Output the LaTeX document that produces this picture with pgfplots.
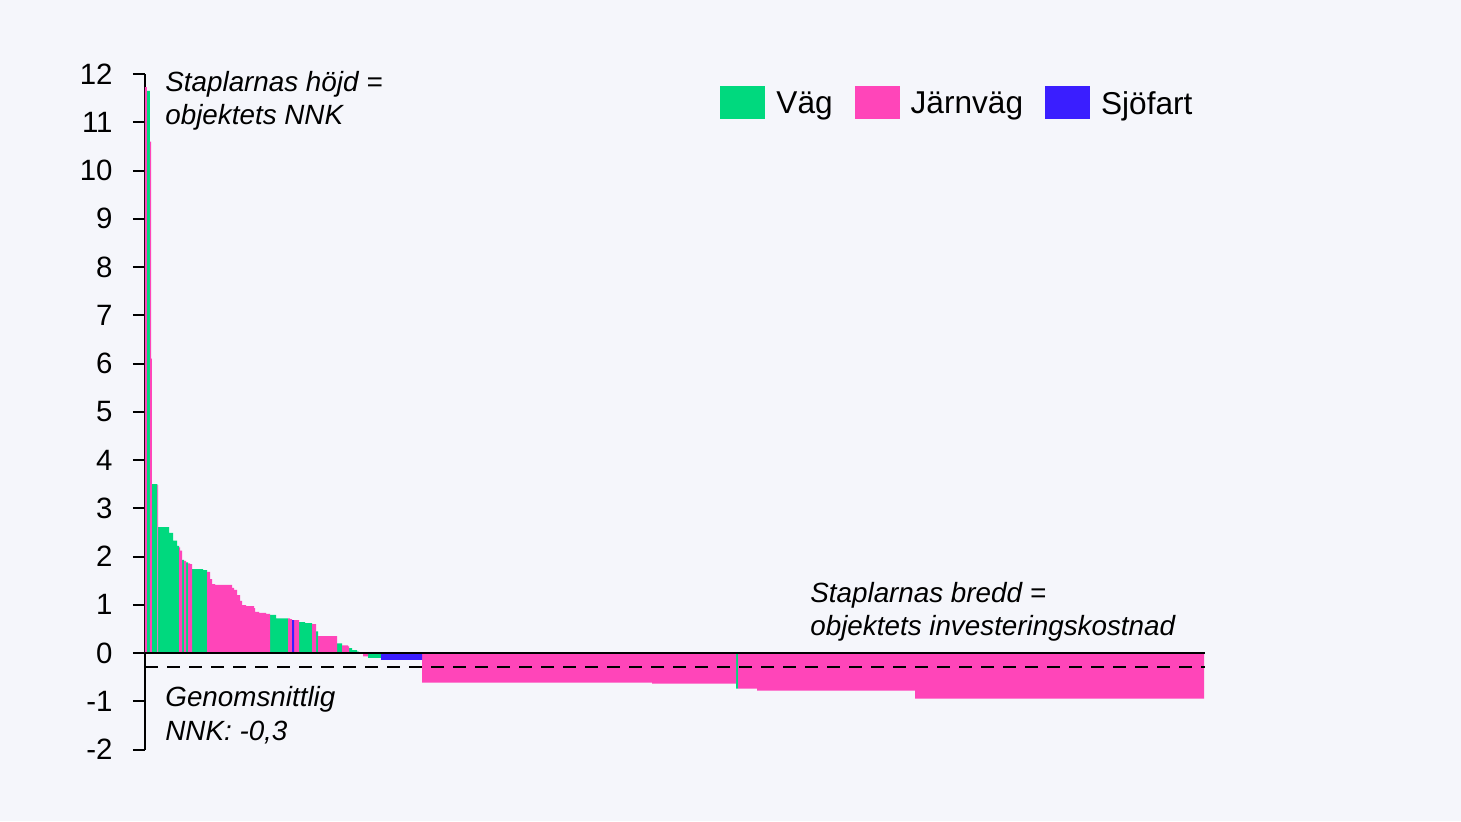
\documentclass[border=0pt]{standalone}
\usepackage{fontspec}
\setmainfont{Liberation Sans}
\usepackage{pgfplots}
\usepackage{pgfplotstable}
\pgfplotsset{compat=1.18}
\definecolor{bgcol}{HTML}{F5F6FB}
\definecolor{vag}{HTML}{00D97E}
\definecolor{jarn}{HTML}{FF45B9}
\definecolor{sjo}{HTML}{3A1EFF}

\pgfplotstableread{
x V J S
0 0 11.73 0
2 11.65 0 0
5 0 10.60 0
6 0 6.10 0
7 3.50 0 0
12.3 0 3.48 0
13 2.61 0 0
24 2.49 0 0
28 2.33 0 0
32 2.22 0 0
34 0 2.19 0
35 0 2.12 0
37 1.93 0 0
39 0 1.91 0
41 1.88 0 0
43 0 1.86 0
45 0 1.84 0
47 1.74 0 0
58 1.72 0 0
62 0 1.68 0
65 0 1.53 0
67 0 1.43 0
70 0 1.41 0
87 0 1.35 0
89 0 1.31 0
92 0 1.20 0
95 0 1.08 0
97 0 0.99 0
101 0 0.97 0
109 0 0.93 0
110 0 0.85 0
114 0 0.83 0
121 0 0.81 0
125 0.79 0 0
131 0.72 0 0
143 0 0.72 0
145 0 0.70 0
147 0 0 0.68
149 0 0.68 0
154 0.64 0 0
160 0.62 0 0
167 0 0.60 0
171 0.45 0 0
173 0 0.35 0
192 0.20 0 0
197 0 0.16 0
203 0 0.14 0
204 0.10 0 0
207 0.06 0 0
212 0.03 0 0
214 0.01 0 0
218 0 -0.07 0
223 -0.10 0 0
236 0 0 -0.14
277 0 -0.615 0
507 0 -0.635 0
591 -0.74 0 0
593 0 -0.74 0
612 0 -0.78 0
770 0 -0.945 0
1059 0 0 0
}\nnkdata

\begin{document}
\begin{tikzpicture}
\useasboundingbox (0,0) rectangle (730.5pt,410.5pt);
\fill[bgcol] (0,0) rectangle (730.5pt,410.5pt);
\begin{axis}[
  at={(72.5pt,35.75pt)}, anchor=south west,
  scale only axis, width=530pt, height=337.75pt,
  xmin=0, xmax=1060, ymin=-2, ymax=12,
  axis x line=none, axis y line=left,
  axis line style={line width=1pt,-},
  ytick={-2,-1,...,12}, xtick=\empty,
  tick align=outside, major tick length=6pt,
  tick style={line width=1pt, black},
  /pgf/number format/assume math mode=true,
  yticklabel style={font=\fontsize{14.7}{17}\selectfont, inner sep=0pt, xshift=-10pt},
  legend columns=3,
  legend image code/.code={\fill[#1,draw=none] (0pt,-8.25pt) rectangle (22.5pt,8.25pt);},
  legend style={draw=none, fill=none, inner sep=0pt,
    at={(0.5425,0.9571)}, anchor=west,
    font=\fontsize{15.8}{18}\selectfont,
    nodes={inner sep=0pt, text depth=0pt},
    /tikz/every odd column/.append style={column sep=5.5pt},
    /tikz/every even column/.append style={column sep=11pt}},
  clip=false,
]
\addplot[fill=vag, draw=none, const plot mark left] table[x=x, y=V] {\nnkdata} \closedcycle;
\addlegendentry{Väg}
\addplot[fill=jarn, draw=none, const plot mark left] table[x=x, y=J] {\nnkdata} \closedcycle;
\addlegendentry{Järnväg}
\addplot[fill=sjo, draw=none, const plot mark left] table[x=x, y=S] {\nnkdata} \closedcycle;
\addlegendentry{Sjöfart}
\draw[line width=1pt] (axis cs:0,0) -- (axis cs:1060,0);
\draw[line width=1pt, dash pattern=on 6.5pt off 4.5pt] (axis cs:0,-0.28) -- (axis cs:1060,-0.28);
\end{axis}
\begin{scope}[every node/.style={inner sep=0pt, anchor=base west, font=\fontsize{13.9}{16}\selectfont\itshape}]
\node at (82.5pt,364.65pt) {Staplarnas höjd =};
\node at (82.5pt,348pt) {objektets NNK};
\node at (82.5pt,57.15pt) {Genomsnittlig};
\node at (82.5pt,40.5pt) {NNK: -0,3};
\node at (405pt,109.4pt) {Staplarnas bredd =};
\node at (405pt,93pt) {objektets investeringskostnad};
\end{scope}
\end{tikzpicture}
\end{document}
